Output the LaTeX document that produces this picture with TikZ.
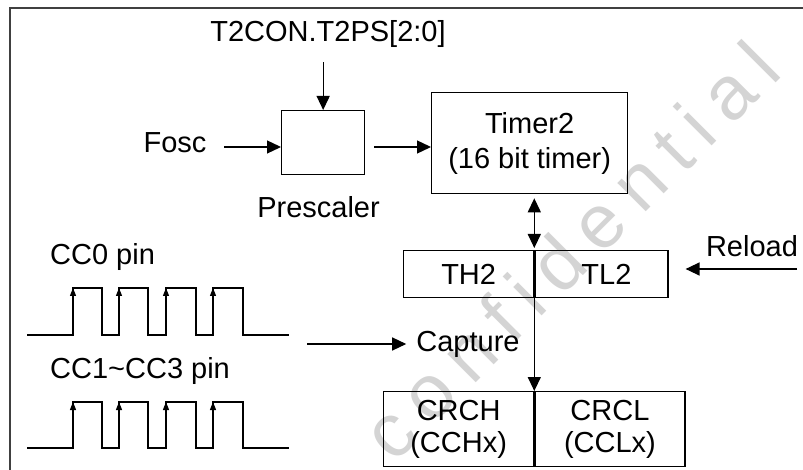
\documentclass[tikz,border=0pt]{standalone}
\usepackage{fontspec}
\setmainfont{Liberation Sans}
\usetikzlibrary{arrows.meta, positioning}

\tikzset{
  blk/.style={draw, line width=1.3pt, inner sep=0pt},
  lbl/.style={font=\fontsize{29}{35}\selectfont, inner sep=0pt},
  conn/.style={line width=1.3pt, -{Triangle[length=14pt,width=13pt]}},
  dconn/.style={line width=1.3pt, {Triangle[length=14pt,width=13pt]}-{Triangle[length=14pt,width=13pt]}},
  edgetip/.style={line width=1.1pt, -{Triangle[length=8pt,width=6pt]}},
  wave/.style={line width=1.3pt},
}
\newcommand\wsp{\hspace{0.2em}}

\begin{document}
\begin{tikzpicture}[x=1pt, y=-1pt]
\useasboundingbox (0,0) rectangle (803,470);
% watermark
\node[rotate=45, text=black!17, inner sep=0pt, font=\fontsize{76}{76}\selectfont] (wmark) at (570,250)
  {c\wsp o\wsp n\wsp f\wsp i\wsp d\wsp e\wsp n\wsp t\wsp i\wsp a\wsp l};
% frame
\draw[line width=2pt, black!75] (10,470) -- (10,8) -- (803,8);

% Prescaler
\node[lbl, anchor=base] (t2ps) at (328,42) {T2CON.T2PS[2:0]};
\node[blk, minimum width=83pt, minimum height=64pt, anchor=north west] (presc) at (281,110) {};
\node[lbl, anchor=base] (presclbl) at (318.5,218) {Prescaler};
\node[lbl, anchor=base] (fosc) at (175,153) {Fosc};
\coordinate (foscin) at (224,147);
\draw[conn] ([yshift=-14pt]t2ps.south -| presc.north) -- (presc.north);
\draw[conn] (foscin) -- (foscin -| presc.west);

% Timer2 and its registers
\node[blk, lbl, align=center, minimum width=196pt, minimum height=101pt, anchor=north west] (timer) at (431,92) {Timer2\\(16 bit timer)};
\draw[conn] ([xshift=9pt]presc.east |- foscin) -- (timer.west |- foscin);
\node[blk, lbl, minimum width=130pt, minimum height=47pt, anchor=north west] (th) at (403,250) {TH2};
\node[blk, lbl, minimum width=133pt, minimum height=47pt, anchor=north west] (tl) at (th.north east) {\hspace{10pt}TL2};
\draw[dconn] ([yshift=-4pt]th.north east |- timer.south) -- ([yshift=2pt]th.north east);

\node[lbl, anchor=base] (reload) at (752,257) {Reload};
\coordinate (reloadin) at (797,269);
\draw[conn] (reloadin) -- ([xshift=17pt]tl.east |- reloadin);

% capture registers
\node[blk, lbl, align=center, font=\fontsize{29}{32}\selectfont, minimum width=150pt, minimum height=75pt, anchor=north west] (crh) at (383,391) {CRCH\\(CCHx)};
\node[blk, lbl, align=center, font=\fontsize{29}{32}\selectfont, minimum width=150pt, minimum height=75pt, anchor=north west] (crl) at (crh.north east) {CRCL\\(CCLx)};
\draw[conn] (th.south east) -- (crh.north east);

\node[lbl, anchor=base] (capture) at (468,351) {Capture};
\coordinate (capin) at (307,344);
\draw[conn] (capin) -- ([xshift=-10pt]capture.west |- capin);

% input pins
\node[lbl, anchor=base west] (cc0) at (50,265) {CC0 pin};
\node[lbl, anchor=base west] (cc13) at (50,378) {CC1\textasciitilde CC3 pin};
\foreach \lo/\hi in {335/288, 448/402} {
  \draw[wave] (27,\lo) -- (73,\lo) |- (102,\hi) |- (119,\lo) |- (148,\hi) |- (166,\lo) |- (196,\hi) |- (213,\lo) |- (243,\hi) |- (289,\lo);
  \foreach \r in {73,119,166,213}
    \draw[edgetip] (\r,\hi+14) -- (\r,\hi);
}
\end{tikzpicture}
\end{document}
